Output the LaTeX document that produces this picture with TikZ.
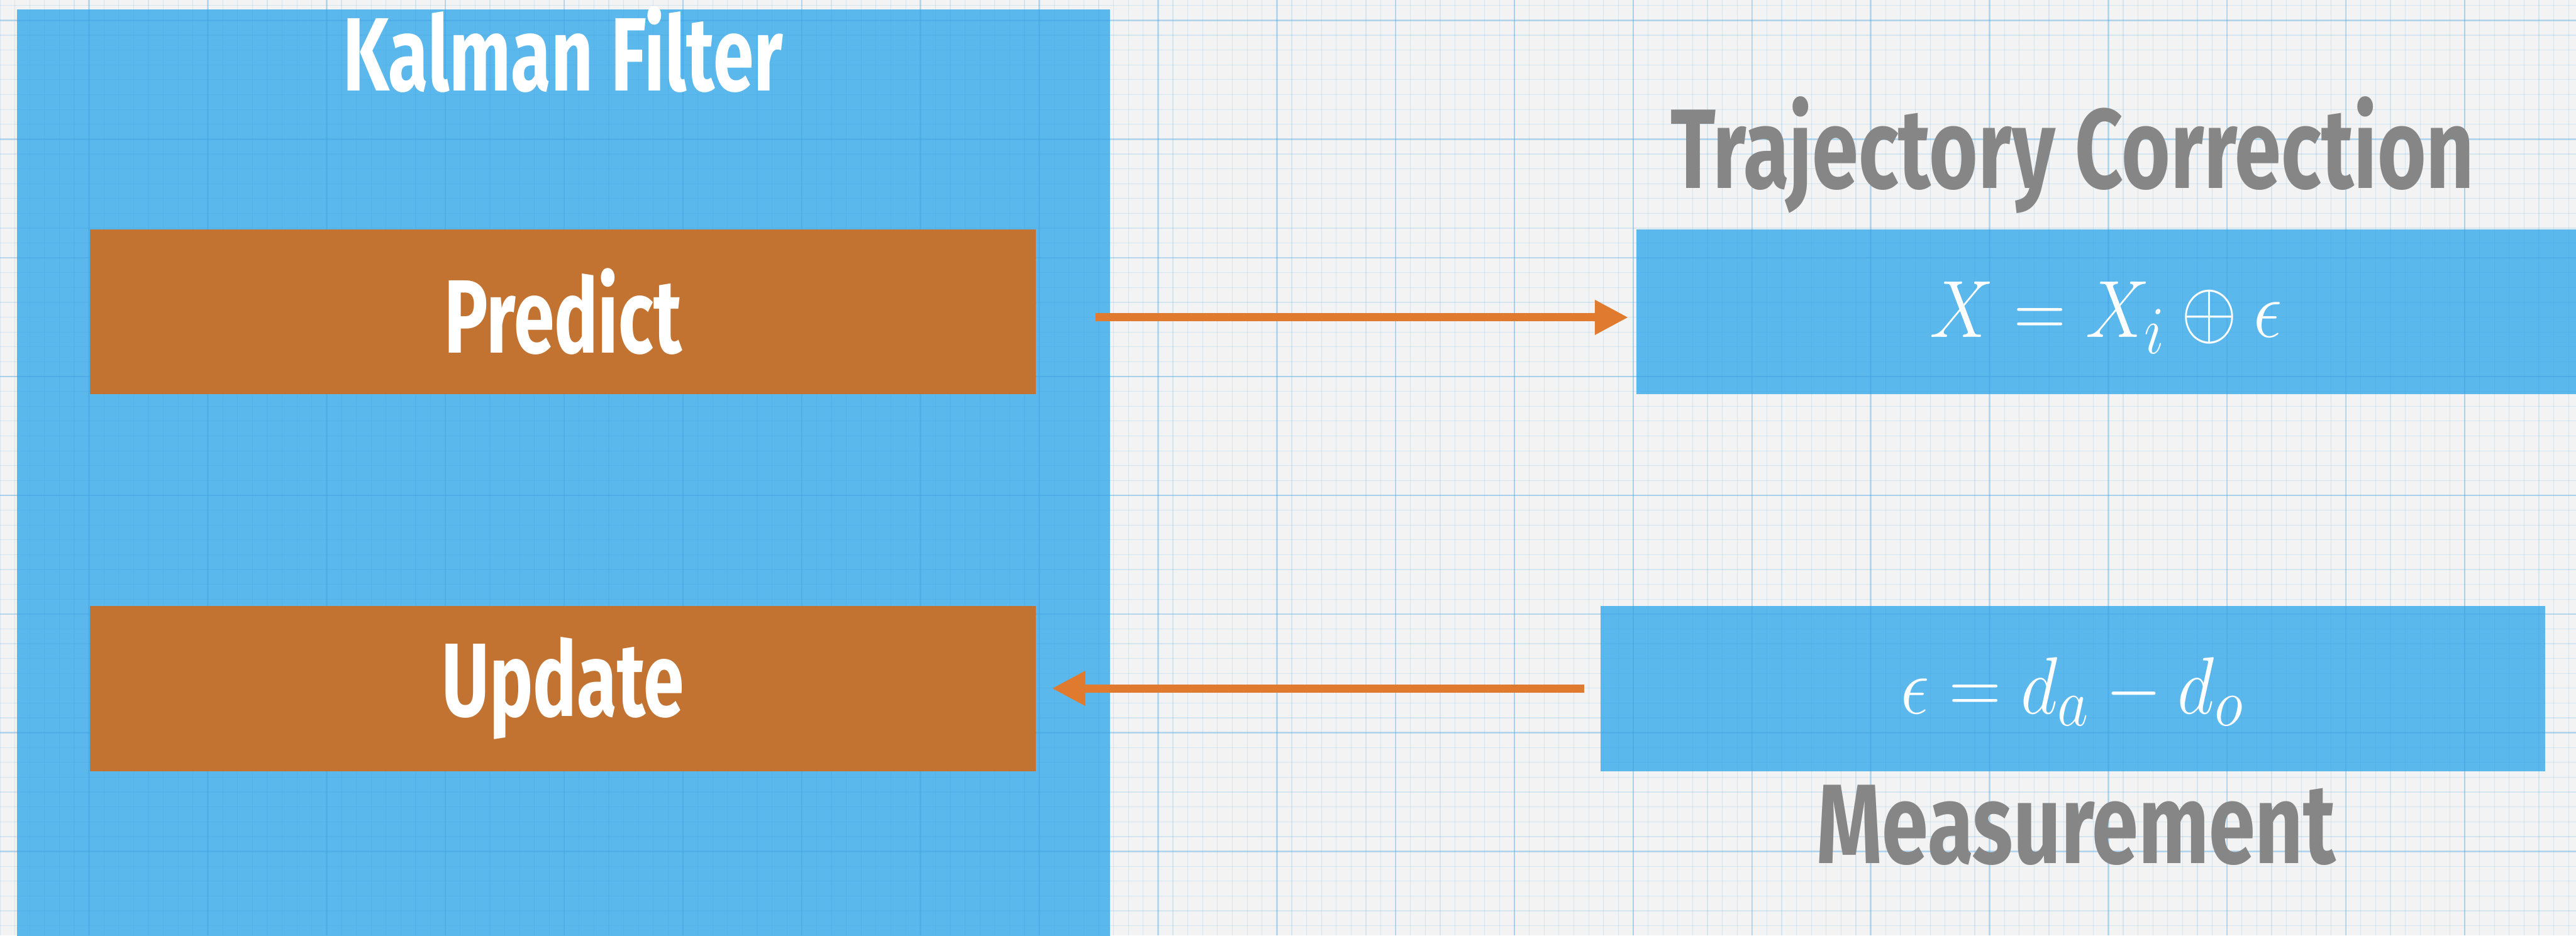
\documentclass[tikz,border=0pt]{standalone}
\usepackage{amsmath}
\usepackage{amssymb}
\usepackage{fontspec}
\usetikzlibrary{arrows.meta,positioning,calc}

\newfontfamily\chalk[FakeStretch=0.7]{Fira Sans}
\newfontfamily\chalkwide[FakeStretch=0.74]{Fira Sans}

\definecolor{paper}{RGB}{243,243,243}
\definecolor{gridblue}{RGB}{60,160,225}
\definecolor{kfblue}{RGB}{91,184,236}
\definecolor{stepbrown}{RGB}{194,114,49}
\definecolor{arrorange}{RGB}{224,122,46}
\definecolor{titlegrey}{RGB}{134,134,134}

\tikzset{
    bluebox/.style={fill=kfblue, inner sep=0pt, anchor=north west},
    stepbox/.style={fill=stepbrown, inner sep=0pt, anchor=north west,
        minimum width=15.28cm, minimum height=2.67cm, text=white,
        font=\chalk\bfseries\fontsize{48}{56}\selectfont},
    minorline/.style={draw=gridblue, opacity=0.17, line width=0.012cm},
    majorline/.style={draw=gridblue, opacity=0.28, line width=0.025cm},
    flow/.style={draw=arrorange, line width=0.13cm,
        -{Triangle[length=0.54cm, width=0.53cm]}},
    headtext/.style={anchor=base, inner sep=0pt, text=titlegrey,
        font=\chalkwide\bfseries\fontsize{52}{60}\selectfont},
    eqtext/.style={anchor=base, inner sep=0pt, text=white,
        font=\fontsize{24.88}{30}\selectfont}
}

\newcommand{\bigeq}[1]{\scalebox{1.33}[1.5]{$#1$}}

\begin{document}
\begin{tikzpicture}[x=0.01cm, y=-0.01cm]
                    \def\W{4164} % page size in px
                    \def\H{1513}
                    \fill[paper] (0,0) rectangle (\W,\H);
                    \useasboundingbox (0,0) rectangle (\W,\H);

                    \node[bluebox, minimum width=17.66cm, minimum height=14.98cm] (kf) at (27,15) {};
                    \node[bluebox, minimum width=15.20cm, minimum height=2.67cm] (traj) at (2644,370) {};
                    \node[bluebox, minimum width=15.26cm, minimum height=2.67cm] (meas) at (2587,979) {};

                    % graph paper
                    \foreach \x in {0,24,...,\W}
                    \draw[minorline] (\x,0) -- (\x,\H);
                    \foreach \y in {9,33,...,\H}
                    \draw[minorline] (0,\y) -- (\W,\y);
                    \foreach \x in {144,336,...,\W}
                    \draw[majorline] (\x,0) -- (\x,\H);
                    \foreach \y in {33,225,...,\H}
                    \draw[majorline] (0,\y) -- (\W,\y);

                    \node[stepbox] (predict) at (145,370) {Predict};
                    \node[stepbox] (update) at (145,979) {Update};

                    \draw[flow, shorten <=0.96cm, shorten >=0.12cm]
                    ([yshift=-0.09cm]predict.east) -- ([yshift=-0.09cm]predict.east -| traj.west);
                    \draw[flow, shorten <=0.26cm, shorten >=0.25cm] (meas.west) -- (update.east);

                    \node[headtext, text=white, font=\chalk\bfseries\fontsize{48}{56}\selectfont]
                    (kftitle) at (910,147) {Kalman Filter};
                    \node[headtext] (trajtitle) at (3350,304) {Trajectory Correction};
                    \node[headtext] (meastitle) at (3356,1396) {Measurement};

                    \node[eqtext] (trajeq) at (3404,545) {\bigeq{X = X_i \oplus \epsilon}};
                    \node[eqtext] (measeq) at (3350,1154) {\bigeq{\epsilon = d_a - d_o}};
                \end{tikzpicture}
\end{document}
